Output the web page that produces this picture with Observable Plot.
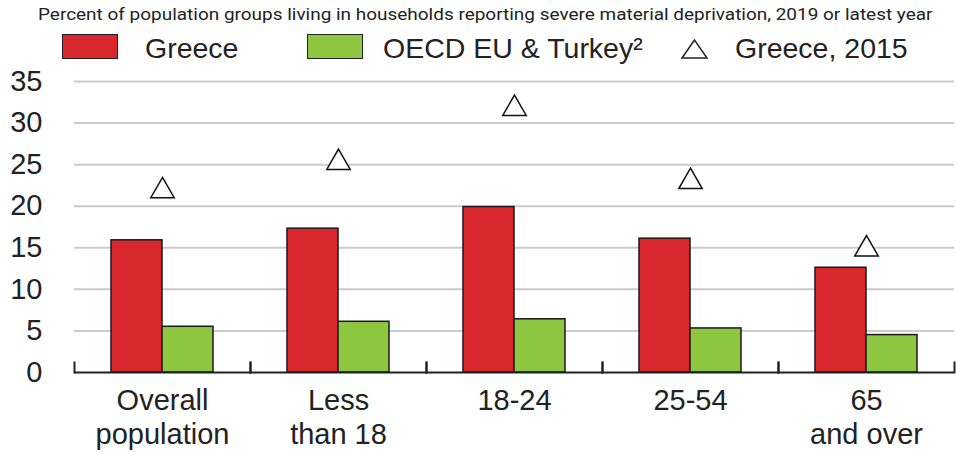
<!DOCTYPE html>
<html><head><meta charset="utf-8">
<script src="https://cdn.jsdelivr.net/npm/d3@7"></script>
<script src="https://cdn.jsdelivr.net/npm/@observablehq/plot@0.6"></script>
<style>
body{margin:0;background:#fff;width:956px;height:452px;position:relative;overflow:hidden;font-family:"Liberation Sans",Arial,sans-serif;}
#title{position:absolute;left:38px;top:5px;font-family:Roboto,sans-serif;font-size:16px;line-height:20px;color:#222;white-space:nowrap;transform:scaleX(1.185);transform-origin:0 0;z-index:2;}
#legend{position:absolute;left:0;top:0;width:956px;height:70px;z-index:2;}
.sw{position:absolute;box-sizing:border-box;border:1.5px solid #222;}
.lt{position:absolute;font-size:28.5px;line-height:28px;color:#222;white-space:nowrap;}
#chart{position:absolute;left:0;top:60px;z-index:1;}
</style>
</head><body>
<div id="chart"></div>
<div id="title"></div>
<div id="legend"></div>
<script>
const titleText = "Percent of population groups living in households reporting severe material deprivation, 2019 or latest year";
const categories = ["Overall population", "Less than 18", "18-24", "25-54", "65 and over"];
const categoryLabels = ["Overall\npopulation", "Less\nthan 18", "18-24", "25-54", "65\nand over"];
const seriesNames = ["Greece", "OECD EU & Turkey²"];
const markerName = "Greece, 2015";
const greece = [15.9, 17.3, 19.9, 16.1, 12.6];
const oecd = [5.5, 6.1, 6.4, 5.3, 4.5];
const greece2015 = [22.2, 25.6, 32.1, 23.3, 15.2];
const yTicks = [0, 5, 10, 15, 20, 25, 30, 35];
const colors = ["#d9282d", "#8dc63f"];

document.getElementById("title").textContent = titleText;

// legend
const legend = document.getElementById("legend");
const legendPos = [{sw: 62, tx: 145}, {sw: 307, tx: 383}];
seriesNames.forEach((s, i) => {
  const sw = document.createElement("div");
  sw.className = "sw";
  Object.assign(sw.style, {left: legendPos[i].sw + "px", top: "34px", width: "56px", height: "25px", background: colors[i]});
  legend.appendChild(sw);
  const t = document.createElement("div");
  t.className = "lt";
  Object.assign(t.style, {left: legendPos[i].tx + "px", top: "34px"});
  t.textContent = s;
  legend.appendChild(t);
});
const triSvg = document.createElementNS("http://www.w3.org/2000/svg", "svg");
triSvg.setAttribute("width", 30); triSvg.setAttribute("height", 24);
triSvg.style.position = "absolute"; triSvg.style.left = "680px"; triSvg.style.top = "37px";
triSvg.innerHTML = '<polygon points="14.5,3 2,21 27,21" fill="white" stroke="#222" stroke-width="1.5"/>';
legend.appendChild(triSvg);
const t3 = document.createElement("div");
t3.className = "lt";
Object.assign(t3.style, {left: "735px", top: "34px"});
t3.textContent = markerName;
legend.appendChild(t3);

const data = categories.flatMap((c, i) => [
  {category: c, series: seriesNames[0], value: greece[i]},
  {category: c, series: seriesNames[1], value: oecd[i]}
]);
const tri = categories.map((c, i) => ({category: c, value: greece2015[i]}));
const labelOf = Object.fromEntries(categories.map((c, i) => [c, categoryLabels[i]]));

const chart = Plot.plot({
  width: 956, height: 392,
  marginLeft: 74, marginRight: 2, marginTop: 21, marginBottom: 80,
  style: {fontFamily: "'Liberation Sans', Arial, sans-serif", fontSize: "29px", color: "#222", background: "transparent", overflow: "visible"},
  fx: {domain: categories, padding: 0, label: null},
  x: {domain: seriesNames, axis: null, paddingInner: 0, paddingOuter: 0.725},
  y: {domain: [0, 35], label: null},
  color: {domain: seriesNames, range: colors},
  marks: [
    Plot.gridY(yTicks.filter(t => t > 0), {stroke: "#cbcbcb", strokeWidth: 2, strokeOpacity: 1}),
    Plot.axisY(yTicks, {tickSize: 0, tickPadding: 32, fontSize: 29, label: null}),
    Plot.axisFx({anchor: "bottom", tickSize: 0, tickPadding: 13, fontSize: 29, lineHeight: 1.17, label: null, tickFormat: d => labelOf[d]}),
    Plot.barY(data, {fx: "category", x: "series", y: "value", fill: "series", stroke: "#1a1a1a", strokeWidth: 1.5}),
    Plot.ruleY([0], {stroke: "#222", strokeWidth: 2}),
    Plot.frame({anchor: "left", insetTop: 281, stroke: "#222", strokeWidth: 2}),
    Plot.frame({anchor: "right", insetTop: 281, stroke: "#222", strokeWidth: 2}),
    Plot.dot(tri, {fx: "category", y: "value", symbol: "triangle", r: 8.7, fill: "white", stroke: "#111", strokeWidth: 1.5, dy: 3})
  ]
});
document.getElementById("chart").appendChild(chart);
</script>
</body></html>
